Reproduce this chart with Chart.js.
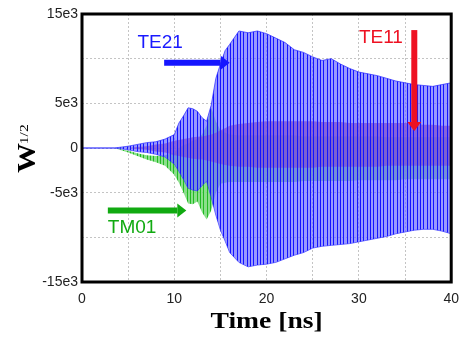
<!DOCTYPE html>
<html>
<head>
<meta charset="utf-8">
<script src="https://cdn.jsdelivr.net/npm/chart.js@4.4.0/dist/chart.umd.min.js"></script>
<style>
  html, body { margin: 0; padding: 0; background: #fff; }
  #wrap { width: 468px; height: 341px; }
</style>
</head>
<body>
<div id="wrap"><canvas id="chart" width="468" height="341"></canvas></div>
<script>
const times = [0, 3.5, 5, 6, 7, 8, 9, 10, 10.5, 11, 11.5, 12, 12.5, 13, 13.5, 14, 14.5, 15, 15.5, 16,
  17, 18, 19, 20, 21, 22, 23, 24, 25, 26, 27, 28, 29, 30, 31, 32, 33, 34, 35, 36, 37, 38, 39, 40];

// TE21 (blue) envelope
const te21Upper = [0, 0, 200, 400, 600, 700, 1000, 1500, 2800, 3600, 4500, 4400, 4100, 3400, 3000, 4800, 7800, 9400, 10900, 11600,
  13100, 12900, 13100, 12800, 12300, 11800, 11000, 10700, 10200, 9800, 10000, 9400, 8900, 8500, 8300, 8100, 7800, 7500, 7300, 7100, 7000, 6900, 7100, 7300];
const te21Lower = [0, 0, -200, -400, -500, -700, -1000, -1800, -2600, -3500, -4500, -4700, -4800, -4200, -3700, -5500, -7500, -9200, -10400, -11700,
  -12800, -13300, -13100, -13000, -12800, -12400, -12000, -11700, -11200, -11000, -10900, -10800, -10700, -10500, -10300, -10100, -9900, -9600, -9400, -9200, -9100, -9100, -9300, -9600];

// TE11 (red) envelope
const te11Upper = [0, 0, 0, 100, 200, 400, 500, 800, 900, 1000, 1100, 1200, 1250, 1300, 1400, 1500, 1700, 2000, 2200, 2500,
  2700, 2800, 2900, 3000, 3000, 3000, 3000, 3000, 3000, 2900, 2900, 2900, 2800, 2800, 2800, 2800, 2800, 2800, 2800, 2700, 2600, 2600, 2500, 2500];
const te11Lower = [0, 0, 0, -100, -200, -400, -500, -800, -900, -1000, -1100, -1200, -1250, -1300, -1400, -1500, -1650, -1800, -1900, -2000,
  -2100, -2100, -2200, -2200, -2200, -2200, -2200, -2200, -2200, -2100, -2100, -2100, -2100, -2100, -2100, -2100, -2000, -2000, -2000, -2000, -2000, -2000, -2000, -2000];

// TM01 (green) envelope
const tm01Upper = [0, 0, -300, -600, -800, -900, -800, -500, 0, 300, 500, 800, 1000, 1500, 2500, 4500, 3000, 2000, 1700, 1500,
  1400, 1400, 1400, 1400, 1400, 1400, 1400, 1300, 1300, 1300, 1300, 1300, 1300, 1300, 1300, 1300, 1200, 1200, 1200, 1200, 1200, 1200, 1200, 1200];
const tm01Lower = [0, 0, -500, -900, -1300, -1600, -2000, -3000, -3900, -5000, -6200, -6300, -6000, -7200, -8000, -7000, -5000, -4000, -3900, -3800,
  -3800, -3800, -3800, -3800, -3800, -3800, -3800, -3700, -3700, -3700, -3700, -3700, -3700, -3600, -3600, -3600, -3600, -3600, -3500, -3500, -3500, -3500, -3500, -3500];

const xTicks = [0, 10, 20, 30, 40];
const yTicks = [15000, 5000, 0, -5000, -15000];

// mode labels and their arrows, in data units
const labels = [
  { text: 'TE21', t: 6.0, v: 11750, color: '#1a1aff' },
  { text: 'TE11', t: 30.0, v: 12370, color: '#ee1122' },
  { text: 'TM01', t: 2.8, v: -8960, color: '#11aa11' }
];
const arrows = [
  { t0: 8.9, v0: 9550, t1: 16.0, v1: 9550, color: '#1515ff' },
  { t0: 36.0, v0: 13200, t1: 36.0, v1: 1900, color: '#ee1122' },
  { t0: 2.8, v0: -7000, t1: 11.3, v1: -7000, color: '#11aa11' }
];

function stripes(dark, light) {
  const c = document.createElement('canvas');
  c.width = 10; c.height = 4;
  const g = c.getContext('2d');
  g.fillStyle = light;
  g.fillRect(0, 0, 10, 4);
  g.fillStyle = dark;
  [0, 3, 7].forEach(x => g.fillRect(x, 0, 1, 4));
  return g.createPattern(c, 'repeat');
}

const pts = arr => arr.map((v, i) => ({ x: times[i], y: v }));

function band(label, upper, lower, fillStyle, border) {
  return [
    { label: label, data: pts(upper), fill: '+1', backgroundColor: fillStyle,
      borderColor: border, borderWidth: border ? 1 : 0, pointRadius: 0, tension: 0 },
    { label: label + ' low', data: pts(lower), fill: false,
      borderColor: border, borderWidth: border ? 1 : 0, pointRadius: 0, tension: 0 }
  ];
}

const extras = {
  id: 'extras',
  afterDraw(chart) {
    const ctx = chart.ctx;
    const a = chart.chartArea;
    const xs = chart.scales.x, ys = chart.scales.y;
    ctx.save();

    // frame
    ctx.strokeStyle = '#000';
    ctx.lineWidth = 3;
    ctx.strokeRect(a.left, a.top, a.right - a.left, a.bottom - a.top);

    // arrows
    arrows.forEach(ar => {
      const x0 = xs.getPixelForValue(ar.t0), y0 = ys.getPixelForValue(ar.v0);
      const x1 = xs.getPixelForValue(ar.t1), y1 = ys.getPixelForValue(ar.v1);
      const ang = Math.atan2(y1 - y0, x1 - x0);
      const head = 9, half = 7;
      const bx = x1 - head * Math.cos(ang), by = y1 - head * Math.sin(ang);
      ctx.strokeStyle = ar.color;
      ctx.fillStyle = ar.color;
      ctx.lineWidth = 6;
      ctx.beginPath();
      ctx.moveTo(x0, y0);
      ctx.lineTo(bx, by);
      ctx.stroke();
      ctx.beginPath();
      ctx.moveTo(x1, y1);
      ctx.lineTo(bx - half * Math.sin(ang), by + half * Math.cos(ang));
      ctx.lineTo(bx + half * Math.sin(ang), by - half * Math.cos(ang));
      ctx.closePath();
      ctx.fill();
    });

    // mode names
    ctx.font = '19px "Liberation Sans", Arial, sans-serif';
    ctx.textAlign = 'left';
    ctx.textBaseline = 'middle';
    labels.forEach(l => {
      ctx.fillStyle = l.color;
      ctx.fillText(l.text, xs.getPixelForValue(l.t), ys.getPixelForValue(l.v));
    });

    // x title
    ctx.fillStyle = '#000';
    ctx.save();
    ctx.translate((a.left + a.right) / 2, 328);
    ctx.scale(1.2, 1);
    ctx.font = 'bold 23px "Liberation Serif", "Times New Roman", serif';
    ctx.textAlign = 'center';
    ctx.textBaseline = 'alphabetic';
    ctx.fillText('Time [ns]', 0, 0);
    ctx.restore();

    // y title W^(1/2)
    ctx.save();
    ctx.translate(35, 173);
    ctx.rotate(-Math.PI / 2);
    ctx.scale(1.2, 1);
    ctx.textAlign = 'left';
    ctx.textBaseline = 'alphabetic';
    ctx.font = 'bold 25px "Liberation Serif", "Times New Roman", serif';
    ctx.fillText('W', 0, 0);
    const w = ctx.measureText('W').width;
    ctx.font = '13px "Liberation Serif", "Times New Roman", serif';
    ctx.fillText('1/2', w - 1, -7);
    ctx.restore();

    ctx.restore();
  }
};

const blueFill = stripes('#1414ff', 'rgba(105, 105, 255, 0.68)');
const redFill = stripes('#a0105a', 'rgba(170, 30, 110, 0.75)');
const greenFill = stripes('#22bb22', 'rgba(110, 215, 110, 0.8)');

new Chart(document.getElementById('chart'), {
  type: 'line',
  data: {
    datasets: [
      ...band('TE21', te21Upper, te21Lower, blueFill, 'rgba(40, 40, 255, 0.7)'),
      ...band('TE11', te11Upper, te11Lower, redFill, null),
      ...band('TM01', tm01Upper, tm01Lower, greenFill, null)
    ]
  },
  options: {
    responsive: false,
    animation: false,
    devicePixelRatio: 1,
    layout: { padding: { top: 14, right: 14, left: 0, bottom: 0 } },
    plugins: { legend: { display: false }, tooltip: { enabled: false } },
    scales: {
      x: {
        type: 'linear',
        min: 0,
        max: 40,
        afterFit: s => { s.height = 59; },
        afterBuildTicks: s => {
          s.ticks = [0, 5, 10, 15, 20, 25, 30, 35, 40].map(v => ({ value: v }));
        },
        ticks: {
          padding: 9,
          maxRotation: 0,
          autoSkip: false,
          color: '#222',
          font: { family: '"Liberation Sans", Arial, sans-serif', size: 14 },
          callback: v => xTicks.includes(v) ? String(v) : ''
        },
        grid: { color: '#c4c4c4', lineWidth: 1, drawTicks: false },
        border: { display: false, dash: [2, 2] }
      },
      y: {
        min: -15000,
        max: 15000,
        afterFit: s => { s.width = 82; },
        afterBuildTicks: s => {
          s.ticks = [15000, 10000, 5000, 0, -5000, -10000, -15000].map(v => ({ value: v }));
        },
        ticks: {
          padding: 4,
          autoSkip: false,
          color: '#222',
          font: { family: '"Liberation Sans", Arial, sans-serif', size: 14 },
          callback: v => yTicks.includes(v) ? (v === 0 ? '0' : (v / 1000) + 'e3') : ''
        },
        grid: { color: '#c4c4c4', lineWidth: 1, drawTicks: false },
        border: { display: false, dash: [2, 2] }
      }
    }
  },
  plugins: [extras]
});
</script>
</body>
</html>
